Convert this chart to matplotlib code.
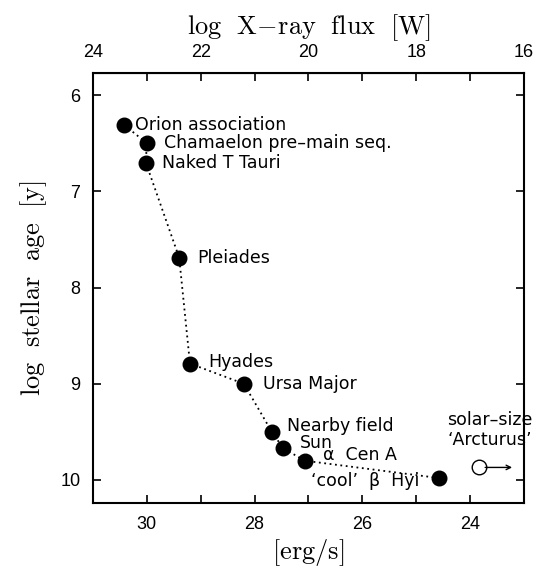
import numpy as np
import matplotlib
matplotlib.use('Agg')
import matplotlib.pyplot as plt
from matplotlib.ticker import FixedLocator

plt.rcParams['mathtext.fontset'] = 'cm'

# cluster / star groups, log Lx [erg/s] and log age [yr]
names = ['Orion association', 'Chamaelon pre\u2013main seq.', 'Naked T Tauri',
         'Pleiades', 'Hyades', 'Ursa Major', 'Nearby field', 'Sun',
         '\u03b1  Cen A', '\u2018cool\u2019  \u03b2  Hyi']
log_lx = [30.42, 30.00, 30.02, 29.40, 29.20, 28.20, 27.68, 27.47, 27.07, 24.58]
log_age = [6.31, 6.50, 6.70, 7.69, 8.79, 9.00, 9.50, 9.67, 9.80, 9.98]

# Arcturus: upper limit only
arct_lx = 23.84
arct_lim = 23.22
arct_age = 9.87

bottom_ticks = [30, 28, 26, 24]
top_ticks = [24, 22, 20, 18, 16]
age_ticks = [6, 7, 8, 9, 10]

# label offsets in points
offsets = [(8, 0), (12, 0), (12, 0), (13, 0), (13, 1), (14, 0),
           (11, 4), (12, 4), (13, 4), (-14, -2)]

fig = plt.figure(figsize=(5.36, 5.72), dpi=100)
ax = fig.add_axes([0.1735, 0.1206, 0.804, 0.7517])

ax.plot(log_lx, log_age, color='black', linestyle=(0, (1, 2.0)), lw=1.3, zorder=1)
ax.scatter(log_lx, log_age, s=110, color='black', zorder=3)

for nm, x, y, (dx, dy) in zip(names, log_lx, log_age, offsets):
    ax.annotate(nm, (x, y), xytext=(dx, dy), textcoords='offset points',
                ha='left' if dx > 0 else 'right', va='center',
                fontsize=12.5, family='DejaVu Sans')

ax.scatter([arct_lx], [arct_age], s=110, facecolor='white', edgecolor='black',
           lw=1.0, zorder=3)
ax.annotate('', xy=(arct_lim, arct_age), xytext=(arct_lx - 0.12, arct_age),
            arrowprops=dict(arrowstyle='->', lw=1.0, color='black',
                            shrinkA=0, shrinkB=0, mutation_scale=8))
ax.annotate('solar\u2013size\n\u2018Arcturus\u2019', (arct_lx, arct_age),
            xytext=(8, 13), textcoords='offset points', ha='center', va='bottom',
            fontsize=12.5, family='DejaVu Sans', linespacing=1.15)

ax.set_xlim(31, 23)
ax.set_ylim(10.24, 5.77)

ax.xaxis.set_major_locator(FixedLocator(bottom_ticks))
ax.xaxis.set_minor_locator(FixedLocator([29, 27, 25]))
ax.yaxis.set_major_locator(FixedLocator(age_ticks))
ax.tick_params(which='both', direction='in', top=False, right=True,
               labelsize=13, width=1.2, length=6)
ax.tick_params(which='major', pad=9)
for lbl in ax.get_xticklabels() + ax.get_yticklabels():
    lbl.set_family('Liberation Sans')
for sp in ax.spines.values():
    sp.set_linewidth(1.5)

sec = ax.secondary_xaxis('top', functions=(lambda v: v - 7, lambda v: v + 7))
sec.xaxis.set_major_locator(FixedLocator(top_ticks))
sec.xaxis.set_minor_locator(FixedLocator([23, 21, 19, 17]))
sec.tick_params(which='both', direction='in', length=6, width=1.2,
                labelsize=13, pad=9)
for lbl in sec.get_xticklabels():
    lbl.set_family('Liberation Sans')

sec.set_xlabel(r'$\mathrm{log\ \ X\!-\!ray\ \ flux\ \ [W]}$', fontsize=19, labelpad=7)
ax.set_xlabel(r'$\mathrm{[erg/s]}$', fontsize=19, labelpad=3)
ax.set_ylabel(r'$\mathrm{log\ \ stellar\ \ age\ \ [y]}$', fontsize=19, labelpad=8)

fig.savefig('out.png', dpi=100, facecolor='white')
